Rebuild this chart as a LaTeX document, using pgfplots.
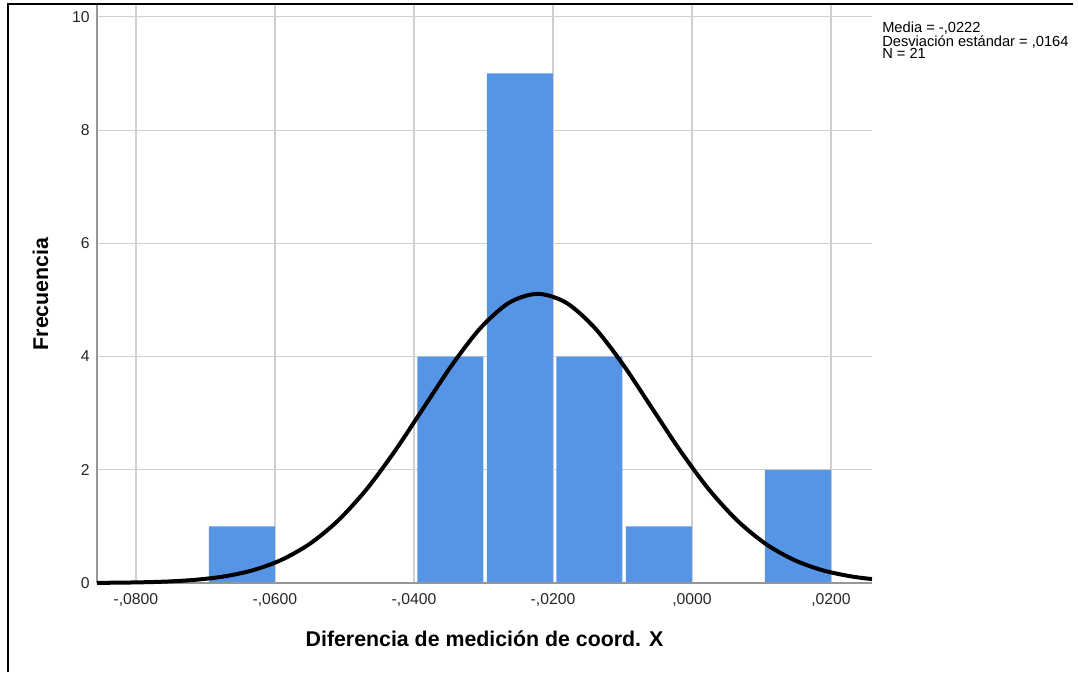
\documentclass[border=0pt]{standalone}
\usepackage{pgfplots}
\pgfplotsset{compat=1.18}
\usepackage{fontspec}
\setmainfont{Liberation Sans}
\definecolor{barblue}{RGB}{86,148,230}
\definecolor{gridgray}{RGB}{208,208,208}
\definecolor{axisgray}{RGB}{150,150,150}
\begin{document}
\begin{tikzpicture}
\useasboundingbox (0pt,0pt) rectangle (808.5pt,504pt);
% outer frame (left and top)
\draw[line width=2.2pt,black] (6pt,0pt) -- (6pt,501pt) -- (804.75pt,501pt);
\begin{axis}[
  at={(72.75pt,66.75pt)}, anchor=south west,
  scale only axis,
  width=581.25pt, height=433.5pt,
  xmin=-0.0856, xmax=0.0259,
  ymin=0, ymax=10.21,
  axis x line*=bottom, axis y line*=left,
  axis line style={draw=none},
  scaled x ticks=false,
  xtick={-0.08,-0.06,-0.04,-0.02,0,0.02},
  xticklabels={{-,0800},{-,0600},{-,0400},{-,0200},{,0000},{,0200}},
  ytick={0,2,4,6,8,10},
  yticklabels={0,2,4,6,8,10},
  major tick length=0pt,
  grid=major,
  major grid style={gridgray, line width=0.9pt},
  tick label style={font=\fontsize{11.8}{13}\selectfont, text=black!85},
  xticklabel style={yshift=-4pt},
  yticklabel style={xshift=-2pt},
  xlabel={Diferencia de medición de coord. X},
  ylabel={Frecuencia},
  label style={font=\fontsize{16}{19}\selectfont\bfseries},
  xlabel style={at={(axis description cs:0.5,0)}, anchor=north, yshift=-32pt},
  ylabel style={at={(axis description cs:0,0.5)}, anchor=south, yshift=33pt},
  clip=false,
]
\addplot[fill=barblue, draw=none, ybar interval, bar interval width=0.95, bar interval shift=0.525] coordinates {
  (-0.07,1) (-0.06,0) (-0.05,0) (-0.04,4) (-0.03,9) (-0.02,4) (-0.01,1) (0.00,0) (0.01,2) (0.02,2)
};
\draw[axisgray, line width=1pt] (rel axis cs:0,0) -- (rel axis cs:0,1);
\draw[axisgray, line width=1pt] (rel axis cs:0,0) -- (rel axis cs:1,0);
\addplot[black, line width=3pt, smooth] coordinates {
  (-0.0856,0.0029) (-0.0837,0.0045) (-0.0796,0.0112) (-0.0755,0.0260)
  (-0.0714,0.0568) (-0.0673,0.1165) (-0.0632,0.2244) (-0.0591,0.4063)
  (-0.0550,0.6913) (-0.0509,1.105) (-0.0468,1.658) (-0.0427,2.339)
  (-0.0386,3.098) (-0.0345,3.856) (-0.0304,4.508) (-0.0263,4.951)
  (-0.0222,5.108) (-0.0181,4.951) (-0.0140,4.508) (-0.0099,3.856)
  (-0.0058,3.098) (-0.0017,2.339) (0.0024,1.658) (0.0065,1.105)
  (0.0106,0.6913) (0.0147,0.4063) (0.0188,0.2244) (0.0229,0.1165)
  (0.0259,0.0692)
};
\end{axis}
\node[anchor=north west, align=left, inner sep=0pt, font=\fontsize{11}{9.4}\selectfont] at (661.5pt,488pt)
  {Media = -,0222\\Desviación estándar = ,0164\\N = 21};
\end{tikzpicture}
\end{document}
